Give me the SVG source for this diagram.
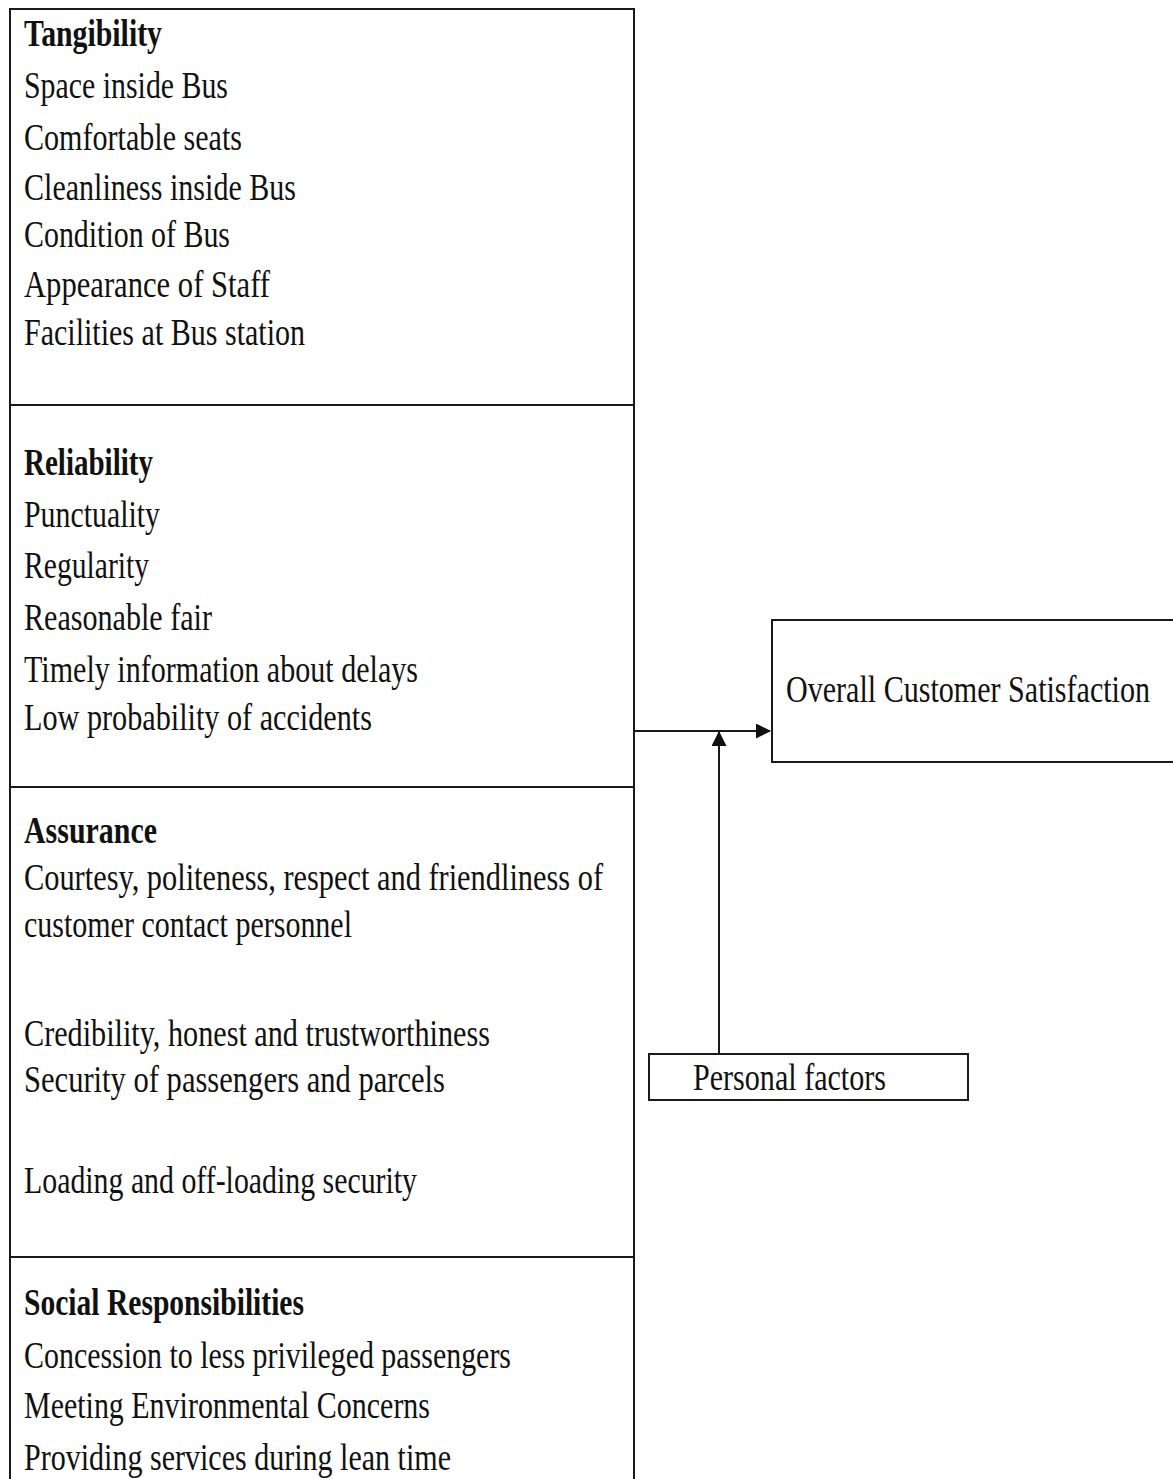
<svg xmlns="http://www.w3.org/2000/svg" width="1173" height="1479" viewBox="0 0 1173 1479">
<defs>
<style>
.box{fill:#fff;stroke:#1a1a1a;stroke-width:2}
.t{font-family:"Liberation Serif","Times New Roman",serif;font-size:37px;fill:#111}
.b{font-weight:bold}
.c{stroke:#1a1a1a;stroke-width:2;fill:none}
</style>
<marker id="ah2" markerWidth="15" markerHeight="15" refX="14" refY="7.5" orient="auto" markerUnits="userSpaceOnUse" viewBox="0 0 15 15">
<path d="M0,0 L15,7.5 L0,15 z" fill="#111"/>
</marker>
</defs>
<rect width="1173" height="1479" fill="#fff"/>
<g id="left-panel">
<rect class="box" x="10" y="9" width="624" height="1490"/>
<line class="c" x1="10" y1="405" x2="634" y2="405"/>
<line class="c" x1="10" y1="787" x2="634" y2="787"/>
<line class="c" x1="10" y1="1257" x2="634" y2="1257"/>
</g>
<g id="tangibility">
<text class="t b" x="24" y="46" textLength="138" lengthAdjust="spacingAndGlyphs">Tangibility</text>
<text class="t" x="24" y="98" textLength="204" lengthAdjust="spacingAndGlyphs">Space inside Bus</text>
<text class="t" x="24" y="150" textLength="218" lengthAdjust="spacingAndGlyphs">Comfortable seats</text>
<text class="t" x="24" y="200" textLength="272" lengthAdjust="spacingAndGlyphs">Cleanliness  inside Bus</text>
<text class="t" x="24" y="247" textLength="206" lengthAdjust="spacingAndGlyphs">Condition of Bus</text>
<text class="t" x="24" y="297" textLength="246" lengthAdjust="spacingAndGlyphs">Appearance of Staff</text>
<text class="t" x="24" y="345" textLength="281" lengthAdjust="spacingAndGlyphs">Facilities  at Bus station</text>
</g>
<g id="reliability">
<text class="t b" x="24" y="475" textLength="129" lengthAdjust="spacingAndGlyphs">Reliability</text>
<text class="t" x="24" y="527" textLength="136" lengthAdjust="spacingAndGlyphs">Punctuality</text>
<text class="t" x="24" y="578" textLength="125" lengthAdjust="spacingAndGlyphs">Regularity</text>
<text class="t" x="24" y="630" textLength="188" lengthAdjust="spacingAndGlyphs">Reasonable fair</text>
<text class="t" x="24" y="682" textLength="394" lengthAdjust="spacingAndGlyphs">Timely  information  about delays</text>
<text class="t" x="24" y="730" textLength="348" lengthAdjust="spacingAndGlyphs">Low probability  of accidents</text>
</g>
<g id="assurance">
<text class="t b" x="24" y="843" textLength="133" lengthAdjust="spacingAndGlyphs">Assurance</text>
<text class="t" x="24" y="890" textLength="579" lengthAdjust="spacingAndGlyphs">Courtesy, politeness, respect and friendliness of</text>
<text class="t" x="24" y="937" textLength="328" lengthAdjust="spacingAndGlyphs">customer contact personnel</text>
<text class="t" x="24" y="1046" textLength="466" lengthAdjust="spacingAndGlyphs">Credibility, honest and trustworthiness</text>
<text class="t" x="24" y="1092" textLength="421" lengthAdjust="spacingAndGlyphs">Security of passengers  and parcels</text>
<text class="t" x="24" y="1193" textLength="393" lengthAdjust="spacingAndGlyphs">Loading and off-loading security</text>
</g>
<g id="social">
<text class="t b" x="24" y="1315" textLength="280" lengthAdjust="spacingAndGlyphs">Social Responsibilities</text>
<text class="t" x="24" y="1368" textLength="487" lengthAdjust="spacingAndGlyphs">Concession to less privileged passengers</text>
<text class="t" x="24" y="1418" textLength="406" lengthAdjust="spacingAndGlyphs">Meeting Environmental Concerns</text>
<text class="t" x="24" y="1470" textLength="427" lengthAdjust="spacingAndGlyphs">Providing services  during lean time</text>
</g>
<g id="overall">
<rect class="box" x="772" y="620" width="404" height="142"/>
<text class="t" x="786" y="702" textLength="364" lengthAdjust="spacingAndGlyphs">Overall Customer Satisfaction</text>
</g>
<g id="personal">
<rect class="box" x="649" y="1054" width="319" height="46"/>
<text class="t" x="693" y="1090" textLength="193" lengthAdjust="spacingAndGlyphs">Personal factors</text>
</g>
<g id="connectors">
<line class="c" x1="634" y1="731" x2="770" y2="731" marker-end="url(#ah2)"/>
<line class="c" x1="719" y1="1054" x2="719" y2="732" marker-end="url(#ah2)"/>
</g>
</svg>
